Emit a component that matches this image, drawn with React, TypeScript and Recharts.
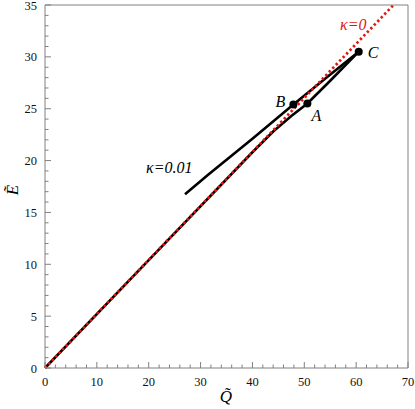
import React from "react";
import {
  ComposedChart,
  Line,
  Scatter,
  XAxis,
  YAxis,
} from "recharts";

// kappa = 0 curve (red, dotted)
const kappa0Q = [0, 67.2];
const kappa0E = [0, 35];

// kappa = 0.01, lower branch from the origin through A to C
const lowerQ = [0, 20, 40, 44, 47.5, 50.6, 55, 60.5];
const lowerE = [0, 10.4, 20.8, 22.8, 24.3, 25.5, 27.7, 30.5];

// kappa = 0.01, upper branch through B to C
const upperQ = [27, 31.4, 40, 47.9, 54, 60.5];
const upperE = [16.75, 18.6, 22.1, 25.4, 27.9, 30.5];

// marked points
const markerNames = ["A", "B", "C"];
const markerQ = [50.6, 47.9, 60.5];
const markerE = [25.5, 25.4, 30.5];

const xTicks = [
  0, 2, 4, 6, 8, 10, 12, 14, 16, 18, 20, 22, 24, 26, 28, 30, 32, 34, 36, 38,
  40, 42, 44, 46, 48, 50, 52, 54, 56, 58, 60, 62, 64, 66, 68, 70,
];
const yTicks = [
  0, 1, 2, 3, 4, 5, 6, 7, 8, 9, 10, 11, 12, 13, 14, 15, 16, 17, 18, 19, 20,
  21, 22, 23, 24, 25, 26, 27, 28, 29, 30, 31, 32, 33, 34, 35,
];

const zip = (q: number[], e: number[]) => q.map((v, i) => ({ q: v, e: e[i] }));

const kappa0 = zip(kappa0Q, kappa0E);
const lower = zip(lowerQ, lowerE);
const upper = zip(upperQ, upperE);
const markers = markerNames.map((name, i) => ({ name, q: markerQ[i], e: markerE[i] }));

const FONT = "'Liberation Serif', 'Times New Roman', Times, serif";
const AXIS = "#808080";
const RED = "#e3160e";

// label offsets for the marked points (pixels)
const labelOffset: Record<string, { dx: number; dy: number; anchor: string }> = {
  A: { dx: 4, dy: 17, anchor: "start" },
  B: { dx: -8, dy: 2, anchor: "end" },
  C: { dx: 9, dy: 6, anchor: "start" },
};

function XTick(props: any) {
  const { x, y, payload, side } = props;
  const major = payload.value % 10 === 0;
  const len = major ? 6 : 3.5;
  const dir = side === "bottom" ? -1 : 1;
  return (
    <g>
      <line x1={x} x2={x} y1={y} y2={y + dir * len} stroke={AXIS} strokeWidth={1} />
      {side === "bottom" && major && (
        <text x={x} y={y + 18} textAnchor="middle" style={{ fontFamily: FONT, fontSize: 12.5 }} fill="#111">
          {payload.value}
        </text>
      )}
    </g>
  );
}

function YTick(props: any) {
  const { x, y, payload, side } = props;
  const major = payload.value % 5 === 0;
  const len = major ? 6 : 3.5;
  const dir = side === "left" ? 1 : -1;
  return (
    <g>
      <line x1={x} x2={x + dir * len} y1={y} y2={y} stroke={AXIS} strokeWidth={1} />
      {side === "left" && major && (
        <text x={x - 8} y={y + 4.5} textAnchor="end" style={{ fontFamily: FONT, fontSize: 12.5 }} fill="#111">
          {payload.value}
        </text>
      )}
    </g>
  );
}

function Marker(props: any) {
  const { cx, cy, payload } = props;
  const o = labelOffset[payload.name];
  return (
    <g>
      <circle cx={cx} cy={cy} r={4} fill="#000" />
      <text
        x={cx + o.dx}
        y={cy + o.dy}
        textAnchor={o.anchor as any}
        style={{ fontFamily: FONT, fontStyle: "italic", fontSize: 16 }}
        fill="#000"
      >
        {payload.name}
      </text>
    </g>
  );
}

export default function App() {
  return (
    <div style={{ position: "absolute", left: 0, top: 0, width: 415, height: 409, background: "#fff" }}>
      <ComposedChart
        width={415}
        height={409}
        margin={{ top: 4, right: 6, bottom: 40, left: 44 }}
        style={{ fontFamily: FONT }}
      >
        <XAxis
          dataKey="q"
          type="number"
          domain={[0, 70]}
          ticks={xTicks}
          interval={0}
          height={1}
          tickSize={0}
          tickMargin={0}
          stroke={AXIS}
          tick={<XTick side="bottom" />}
        />
        <XAxis
          xAxisId="top"
          orientation="top"
          type="number"
          domain={[0, 70]}
          ticks={xTicks}
          interval={0}
          height={1}
          tickSize={0}
          tickMargin={0}
          stroke={AXIS}
          tick={<XTick side="top" />}
        />
        <YAxis
          type="number"
          domain={[0, 35]}
          ticks={yTicks}
          interval={0}
          width={1}
          tickSize={0}
          tickMargin={0}
          stroke={AXIS}
          tick={<YTick side="left" />}
        />
        <YAxis
          yAxisId="right"
          orientation="right"
          type="number"
          domain={[0, 35]}
          ticks={yTicks}
          interval={0}
          width={1}
          tickSize={0}
          tickMargin={0}
          stroke={AXIS}
          tick={<YTick side="right" />}
        />
        <Line
          data={lower}
          dataKey="e"
          type="linear"
          stroke="#000"
          strokeWidth={2.6}
          dot={false}
          isAnimationActive={false}
        />
        <Line
          data={upper}
          dataKey="e"
          type="linear"
          stroke="#000"
          strokeWidth={2.6}
          dot={false}
          isAnimationActive={false}
        />
        <Line
          data={kappa0}
          dataKey="e"
          type="linear"
          stroke={RED}
          strokeWidth={2.7}
          strokeDasharray="2.4 2.6"
          dot={false}
          isAnimationActive={false}
        />
        <Scatter data={markers} dataKey="e" shape={<Marker />} isAnimationActive={false} />
      </ComposedChart>
      <svg
        width={415}
        height={409}
        style={{ position: "absolute", left: 0, top: 0, pointerEvents: "none" }}
      >
        <text x={340} y={30} style={{ fontFamily: FONT, fontStyle: "italic", fontSize: 16 }} fill={RED}>
          κ=0
        </text>
        <text x={146} y={173} style={{ fontFamily: FONT, fontStyle: "italic", fontSize: 16 }} fill="#000">
          κ=0.01
        </text>
        <text x={226} y={402} textAnchor="middle" style={{ fontFamily: FONT, fontStyle: "italic", fontSize: 17 }} fill="#000">
          {"Q\u0303"}
        </text>
        <text
          x={0}
          y={0}
          transform="translate(18 190) rotate(-90)"
          textAnchor="middle"
          style={{ fontFamily: FONT, fontStyle: "italic", fontSize: 17 }}
          fill="#000"
        >
          {"E\u0303"}
        </text>
      </svg>
    </div>
  );
}
